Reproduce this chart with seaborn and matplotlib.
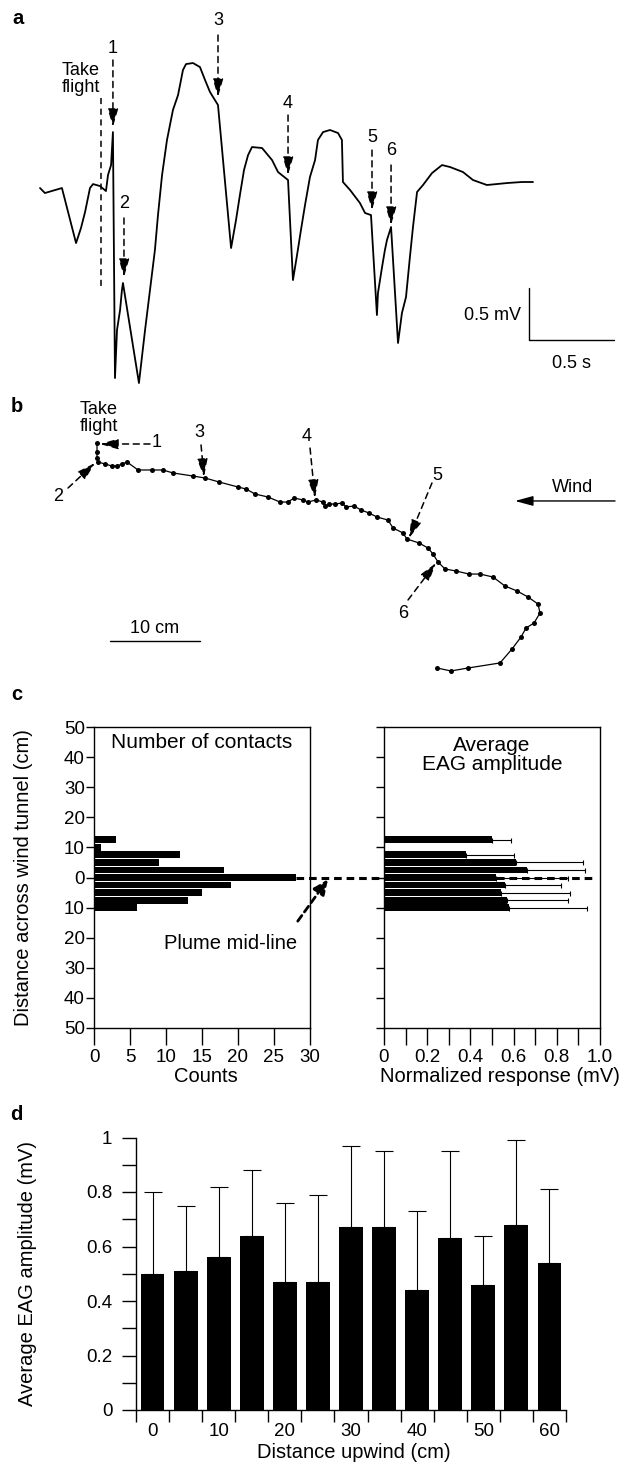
import numpy as np
import pandas as pd
import matplotlib
matplotlib.use("Agg")
import matplotlib.pyplot as plt
import seaborn as sns

# ---------------- data ----------------
# panel a: EAG trace (time in s, potential in mV)
trace_t = [0.000, 0.029, 0.129, 0.212, 0.241, 0.265, 0.294, 0.312, 0.353, 0.388,
           0.400, 0.418, 0.429, 0.441, 0.453, 0.471, 0.482, 0.488, 0.582, 0.618,
           0.647, 0.676, 0.694, 0.718, 0.747, 0.782, 0.812, 0.841, 0.859, 0.900,
           0.941, 0.971, 1.000, 1.047, 1.124, 1.153, 1.176, 1.200, 1.224, 1.247,
           1.306, 1.365, 1.400, 1.459, 1.488, 1.512, 1.535, 1.559, 1.588, 1.618,
           1.635, 1.665, 1.706, 1.753, 1.776, 1.782, 1.824, 1.882, 1.912, 1.947,
           1.982, 1.988, 2.012, 2.029, 2.041, 2.065, 2.106, 2.129, 2.153, 2.176,
           2.194, 2.218, 2.253, 2.306, 2.365, 2.412, 2.488, 2.547, 2.629, 2.747,
           2.835, 2.900]
trace_v = [0.000, -0.048, 0.000, -0.529, -0.385, -0.231, 0.000, 0.038, 0.019, -0.029,
           0.125, 0.221, 0.538, -1.827, -1.365, -1.173, -0.981, -0.913, -1.875, -1.365,
           -0.981, -0.596, -0.260, 0.125, 0.462, 0.750, 0.894, 1.135, 1.192, 1.202,
           1.163, 1.038, 0.923, 0.798, -0.577, -0.308, -0.067, 0.173, 0.317, 0.394,
           0.385, 0.269, 0.154, 0.077, -0.885, -0.644, -0.404, -0.163, 0.106, 0.269,
           0.462, 0.538, 0.558, 0.529, 0.462, 0.058, -0.019, -0.144, -0.240, -0.260,
           -1.221, -1.010, -0.760, -0.596, -0.500, -0.375, -1.490, -1.202, -1.048, -0.663,
           -0.375, -0.038, 0.029, 0.144, 0.221, 0.202, 0.154, 0.077, 0.029, 0.048,
           0.058, 0.058]
event_labels = ["1", "2", "3", "4", "5", "6"]
event_t = [0.429, 0.494, 1.047, 1.459, 1.953, 2.065]
takeoff_t = 0.359

# panel b: flight track (cm)
track_x = [0, 0, 0, 0.11, 0.89, 1.67, 2.22, 2.78, 3.33, 4.56,
           6.11, 7.33, 8.44, 10.67, 12.0, 13.56, 15.67, 16.56, 17.56, 19.0,
           20.33, 21.22, 21.89, 22.89, 23.44, 24.33, 25.11, 25.33, 25.78, 26.44,
           27.22, 27.67, 28.56, 29.33, 30.22, 31.11, 32.33, 32.89, 34.0, 34.44,
           35.78, 36.78, 37.33, 37.89, 38.67, 39.89, 41.33, 42.56, 44.0, 45.33,
           46.67, 47.89, 49.0, 49.22, 48.56, 47.67, 47.11, 46.11, 44.78, 41.22,
           39.33, 37.78]
track_y = [0, -1.0, -1.67, -2.11, -2.33, -2.56, -2.56, -2.33, -2.11, -3.0,
           -3.0, -3.0, -3.33, -3.67, -3.89, -4.33, -4.89, -5.11, -5.67, -6.0,
           -6.56, -6.56, -6.11, -6.33, -6.56, -6.33, -6.56, -7.0, -6.78, -6.78,
           -6.67, -7.11, -7.0, -7.44, -7.78, -8.22, -8.56, -9.44, -10.0, -10.67,
           -11.11, -11.67, -12.33, -13.22, -14.0, -14.22, -14.56, -14.56, -14.89, -15.89,
           -16.44, -17.11, -17.89, -18.89, -20.0, -20.56, -21.56, -22.89, -24.44, -25.0,
           -25.33, -25.0]

# panel c
contact_bins = [12.5, 10, 7.5, 5, 2.5, 0, -2.5, -5, -7.5, -10]
contact_counts = [3, 1, 12, 9, 18, 28, 19, 15, 13, 6]
eag_bins = [12.5, 7.5, 5, 2.5, 0, -2.5, -5, -7.5, -10]
eag_mean = [0.50, 0.38, 0.61, 0.66, 0.52, 0.56, 0.54, 0.57, 0.58]
eag_err = [0.09, 0.22, 0.31, 0.27, 0.33, 0.26, 0.32, 0.28, 0.36]

# panel d
upwind_cm = [0, 5, 10, 15, 20, 25, 30, 35, 40, 45, 50, 55, 60]
upwind_mean = [0.50, 0.51, 0.56, 0.64, 0.47, 0.47, 0.67, 0.67, 0.44, 0.63, 0.46, 0.68, 0.54]
upwind_err = [0.30, 0.24, 0.26, 0.24, 0.29, 0.32, 0.30, 0.28, 0.29, 0.32, 0.18, 0.31, 0.27]
upwind_ticklabels = ["0", "10", "20", "30", "40", "50", "60"]

# ---------------- style ----------------
sns.set_theme(style="ticks")
plt.rcParams["font.family"] = ["Liberation Sans", "DejaVu Sans"]
plt.rcParams["axes.linewidth"] = 1.0
plt.rcParams["text.color"] = "black"
plt.rcParams["axes.labelcolor"] = "black"
plt.rcParams["xtick.color"] = "black"
plt.rcParams["ytick.color"] = "black"
plt.rcParams["axes.edgecolor"] = "black"

W, H = 625, 1464
fig = plt.figure(figsize=(W / 100, H / 100), dpi=100)


def add_ax(l, t, r, b):
    return fig.add_axes([l / W, 1 - b / H, (r - l) / W, (b - t) / H])


DASH = (0, (4, 3))


def dashed_arrow(ax, tip, tail, lw=1.1, ls=DASH, hl=1.1, hw=0.32, clip=True):
    ax.annotate("", xy=tip, xytext=tail, annotation_clip=clip,
                arrowprops=dict(arrowstyle=f"-|>,head_length={hl},head_width={hw}",
                                mutation_scale=10, lw=lw, ls=ls, color="black",
                                fc="black", shrinkA=0, shrinkB=0))


TXT = 13
TICK = 13.5

# ---------------- panel a ----------------
axa = add_ax(0, 0, 625, 395)
axa.set_axis_off()
sns.lineplot(x=trace_t, y=trace_v, ax=axa, color="black", lw=1.3,
             estimator=None, sort=False)
axa.set_xlim(-0.2353, 3.4412)
axa.set_ylim(-1.990, 1.808)

# arrow layout: (tip_v, tail_v, label_v)
a_layout = [(0.587, 1.231, 1.346), (-0.856, -0.288, -0.144), (0.875, 1.471, 1.615),
            (0.125, 0.702, 0.817), (-0.212, 0.365, 0.490), (-0.356, 0.221, 0.365)]
for lab, t, (tv, sv, lv) in zip(event_labels, event_t, a_layout):
    dashed_arrow(axa, (t, tv), (t, sv))
    axa.text(t, lv, lab, ha="center", va="center", fontsize=TXT)

axa.plot([takeoff_t, takeoff_t], [0.865, -0.952], color="black", lw=1.1, ls=DASH)
axa.text(0.241, 1.048, "Take\nflight", ha="center", va="center", fontsize=TXT,
         linespacing=1.0)

sb_t, sb_v = 2.876, -1.462
axa.plot([sb_t, sb_t, sb_t + 0.5], [sb_v + 0.5, sb_v, sb_v], color="black", lw=1.0)
axa.text(2.829, -1.221, "0.5 mV", ha="right", va="center", fontsize=TXT)
axa.text(3.129, -1.683, "0.5 s", ha="center", va="center", fontsize=TXT)

# ---------------- panel b ----------------
axb = add_ax(0, 395, 625, 690)
axb.set_axis_off()
sns.lineplot(x=track_x, y=track_y, ax=axb, color="black", lw=0.9, marker="o",
             markersize=3.6, markeredgewidth=0, estimator=None, sort=False)
axb.set_xlim(-10.778, 58.667)
axb.set_ylim(-27.444, 5.333)

# (tip, tail, label)
b_layout = [((0.33, -0.11), (5.89, -0.11), (6.67, 0.0)),
            ((-0.22, -2.22), (-3.22, -5.0), (-4.33, -6.0)),
            ((11.89, -3.78), (11.56, -0.22), (11.33, 1.22)),
            ((24.22, -6.11), (23.67, -0.56), (23.33, 0.67)),
            ((34.67, -10.56), (37.22, -4.44), (37.78, -3.56)),
            ((37.67, -13.33), (34.56, -17.44), (34.0, -18.89))]
for lab, (tip, tail, lp) in zip(event_labels, b_layout):
    dashed_arrow(axb, tip, tail)
    axb.text(lp[0], lp[1], lab, ha="center", va="center", fontsize=TXT)

axb.text(0.22, 2.78, "Take\nflight", ha="center", va="center", fontsize=TXT,
         linespacing=1.0)
axb.annotate("", xy=(46.44, -6.44), xytext=(57.56, -6.44),
             arrowprops=dict(arrowstyle="-|>,head_length=1.1,head_width=0.3",
                             mutation_scale=10, lw=1.0, color="black",
                             shrinkA=0, shrinkB=0))
axb.text(52.89, -4.89, "Wind", ha="center", va="center", fontsize=TXT)
axb.plot([1.44, 11.44], [-22.0, -22.0], color="black", lw=1.0)
axb.text(6.44, -20.56, "10 cm", ha="center", va="center", fontsize=TXT)

# ---------------- panel c ----------------
ytick_vals = list(range(-50, 51, 10))
ytick_labs = [str(abs(v)) for v in ytick_vals]

axc1 = add_ax(94, 727, 310, 1028)
sns.barplot(x=contact_counts, y=contact_bins, orient="h", native_scale=True,
            color="black", width=0.92, linewidth=0, errorbar=None, ax=axc1)
axc1.set_xlim(0, 30)
axc1.set_ylim(-50, 50)
axc1.set_yticks(ytick_vals, ytick_labs)
axc1.set_xticks(range(0, 31, 5), [str(v) for v in range(0, 31, 5)])
axc1.tick_params(axis="y", direction="out", left=True, right=False, length=6,
                 width=1, pad=0.5, labelsize=TICK)
axc1.tick_params(axis="x", direction="out", bottom=True, top=False, length=12,
                 width=1, pad=3, labelsize=TICK)
axc1.set_ylabel("Distance across wind tunnel (cm)", fontsize=14.5)
axc1.yaxis.set_label_coords(-0.282, 0.5)
axc1.set_xlabel("Counts", fontsize=14.5)
axc1.xaxis.set_label_coords(0.52, -0.13)
axc1.text(0.5, 0.95, "Number of contacts", transform=axc1.transAxes,
          ha="center", va="center", fontsize=15)
for s in axc1.spines.values():
    s.set_visible(True)
    s.set_linewidth(1.0)
    s.set_color("black")

# plume mid-line
axc1.plot([28, 69.3], [0, 0], color="black", lw=2.2, ls=(0, (2.5, 1.6)),
          clip_on=False, zorder=0.5)
dashed_arrow(axc1, (32.5, -0.6), (28.3, -14.5), lw=2.0, ls=(0, (2.5, 1.6)),
             hl=0.9, hw=0.4, clip=False)
axc1.text(18.9, -21.8, "Plume mid-line", ha="center", va="center", fontsize=14.5)

axc2 = add_ax(384, 727, 600, 1028)
axc2.set_facecolor("none")
sns.barplot(x=eag_mean, y=eag_bins, orient="h", native_scale=True,
            color="black", width=0.92, linewidth=0, errorbar=None, ax=axc2)
axc2.errorbar(eag_mean, eag_bins, xerr=[np.zeros(len(eag_err)), eag_err],
              fmt="none", ecolor="black", elinewidth=0.8, capsize=1.8, capthick=0.8)
axc2.set_xlim(0, 1.0)
axc2.set_ylim(-50, 50)
axc2.set_yticks(ytick_vals, [""] * len(ytick_vals))
xt = [round(0.1 * i, 1) for i in range(11)]
xl = ["0", "", "0.2", "", "0.4", "", "0.6", "", "0.8", "", "1.0"]
axc2.set_xticks(xt, xl)
axc2.tick_params(axis="y", direction="out", left=True, right=False, length=6, width=1)
axc2.tick_params(axis="x", direction="out", bottom=True, top=False, length=12,
                 width=1, pad=3, labelsize=TICK)
axc2.set_ylabel("")
axc2.set_xlabel("Normalized response (mV)", fontsize=14.5)
axc2.xaxis.set_label_coords(0.537, -0.13)
axc2.text(0.5, 0.907, "Average\nEAG amplitude", transform=axc2.transAxes,
          ha="center", va="center", fontsize=15, linespacing=1.0)
for s in axc2.spines.values():
    s.set_visible(True)
    s.set_linewidth(1.0)
    s.set_color("black")

# ---------------- panel d ----------------
axd = add_ax(136, 1137.5, 566, 1410)
sns.barplot(x=upwind_cm, y=upwind_mean, color="black", width=0.72, linewidth=0,
            errorbar=None, ax=axd)
pos = np.arange(len(upwind_cm))
axd.errorbar(pos, upwind_mean, yerr=[np.zeros(len(upwind_err)), upwind_err],
             fmt="none", ecolor="black", elinewidth=0.8, capsize=6.5, capthick=0.8)
axd.set_xlim(-0.5, len(upwind_cm) - 0.5)
axd.set_ylim(0, 1)
axd.set_xticks(np.arange(-0.5, len(upwind_cm), 1.0), [""] * (len(upwind_cm) + 1))
axd.set_xticks(pos[::2], upwind_ticklabels, minor=True)
axd.tick_params(axis="x", which="major", direction="out", bottom=True, length=8.6, width=1)
axd.tick_params(axis="x", which="minor", bottom=True, length=0, pad=9, labelsize=TICK)
axd.set_yticks([0, 0.2, 0.4, 0.6, 0.8, 1.0], ["0", "0.2", "0.4", "0.6", "0.8", "1"])
axd.set_yticks([0.1, 0.3, 0.5, 0.7, 0.9], minor=True)
axd.tick_params(axis="y", which="both", direction="out", left=True, length=10, width=1,
                pad=7, labelsize=TICK)
sns.despine(ax=axd)
axd.spines["left"].set_color("black")
axd.spines["bottom"].set_color("black")
axd.set_ylabel("Average EAG amplitude (mV)", fontsize=14.5)
axd.yaxis.set_label_coords(-0.23, 0.5)
axd.set_xlabel("Distance upwind (cm)", fontsize=14.5)
axd.xaxis.set_label_coords(0.507, -0.121)

# ---------------- panel letters ----------------
for lab, (x, y) in zip(["a", "b", "c", "d"], [(18, 19), (17, 407), (17, 695), (16, 1115)]):
    fig.text(x / W, 1 - y / H, lab, ha="center", va="center", fontsize=14.5,
             fontweight="heavy")

fig.savefig("out.png", dpi=100)
